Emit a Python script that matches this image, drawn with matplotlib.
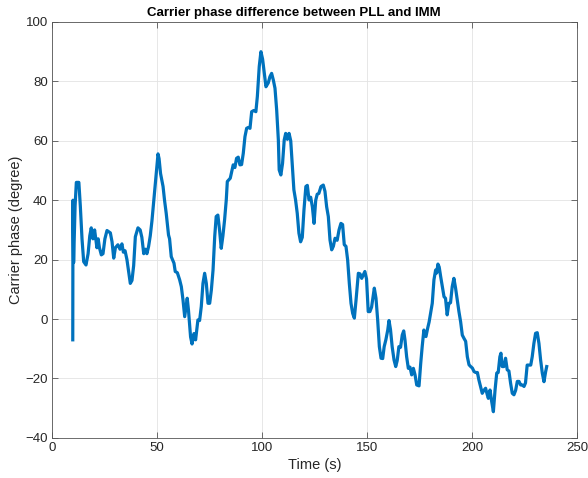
import matplotlib
matplotlib.use("Agg")
import matplotlib.pyplot as plt

# Time (s) and carrier phase difference (degree)
time_s = [
    9.9, 10.0, 10.3, 11.0, 11.6, 12.8, 13.5, 14.3, 15.1, 16.2, 17.2, 18.0, 18.7, 19.5,
    20.3, 21.0, 21.4, 22.0, 22.6, 23.5, 24.3, 25.2, 26.2, 27.8, 28.6, 29.4, 30.2, 31.4,
    32.4, 33.3, 34.0, 34.8, 35.7, 36.5, 37.3, 38.1, 38.9, 39.7, 40.95, 42.0, 42.8, 43.7,
    44.5, 45.2, 46.0, 46.8, 47.6, 48.5, 49.5, 50.5, 51.0, 51.7, 52.9, 53.6, 54.4, 55.5,
    56.0, 56.8, 58.1, 58.7, 59.7, 60.8, 61.6, 62.4, 63.2, 64.4, 65.0, 66.0, 66.7, 67.6,
    68.4, 69.5, 70.3, 71.1, 71.9, 72.7, 73.5, 74.3, 75.1, 75.9, 76.7, 77.5, 78.2, 79.0,
    79.8, 80.6, 81.4, 82.2, 83.0, 83.5, 84.9, 85.4, 86.3, 87.1, 87.9, 88.7, 89.5, 90.3,
    91.1, 91.9, 92.7, 93.5, 94.3, 95.1, 96.1, 97.1, 97.8, 98.7, 99.5, 100.3, 101.1, 101.9,
    103.0, 103.8, 104.6, 105.4, 106.2, 107.0, 107.8, 108.2, 109.0, 109.8, 110.6, 111.3,
    112.1, 112.9, 113.7, 114.4, 115.2, 116.0, 116.8, 117.6, 118.4, 119.2, 120.0, 120.9,
    121.6, 122.4, 123.2, 124.0, 124.8, 125.6, 126.3, 127.1, 128.1, 129.2, 130.0, 130.8,
    131.6, 132.4, 133.2, 134.0, 134.8, 135.8, 136.7, 137.6, 138.4, 139.2, 140.0, 140.8,
    141.6, 142.4, 143.2, 144.0, 144.8, 145.9, 146.7, 147.5, 148.2, 149.0, 149.8, 150.6,
    151.4, 152.2, 153.5, 154.3, 155.1, 155.9, 156.7, 157.5, 158.2, 159.0, 159.9, 160.5,
    161.2, 162.0, 162.9, 163.7, 164.4, 165.2, 166.0, 166.8, 167.5, 168.1, 168.9, 169.7,
    170.5, 171.3, 172.1, 172.9, 173.7, 174.8, 175.6, 176.3, 177.1, 178.1, 178.9, 179.6,
    180.3, 181.1, 181.9, 182.7, 183.2, 183.8, 184.4, 185.1, 185.9, 186.7, 187.4, 188.2,
    189.0, 189.8, 190.6, 191.4, 192.2, 193.0, 193.8, 194.6, 195.4, 196.2, 197.0, 197.8,
    198.6, 199.4, 200.2, 201.0, 201.8, 202.6, 203.3, 204.1, 204.9, 205.7, 206.5, 207.3,
    207.8, 208.6, 209.4, 210.2, 211.0, 211.8, 212.5, 213.3, 213.8, 214.4, 215.2, 216.0,
    216.8, 217.6, 218.4, 219.2, 220.0, 220.8, 221.6, 222.4, 223.2, 224.0, 224.8, 225.5,
    226.3, 227.1, 228.0, 228.7, 229.5, 230.3, 231.1, 231.9, 232.7, 233.5, 234.3, 235.1,
    235.6,
]
phase_deg = [
    -7, 40, 19, 38, 46, 46, 38, 27, 19.3, 18.2, 22, 28, 30.7, 27,
    30, 26, 24, 27, 24, 21.6, 22, 27, 29.8, 29, 26, 20.5, 24, 25,
    23.5, 25.3, 22.5, 23, 20, 16, 12, 13, 18, 27.7, 30.7, 30, 27.5, 22,
    23.5, 22, 24.4, 28, 33, 40, 48, 55.6, 54, 49, 44.6, 40, 35.6, 28.3,
    27, 21, 18.8, 16, 15.6, 13.2, 10.9, 6.4, 0.8, 7, 3, -6, -8.4, -4.9,
    -7, -0.3, -0.5, 4.2, 12, 15.4, 12, 5.3, 5.3, 9.8, 16.5, 27.8, 34.5, 35,
    30, 23.8, 28, 33.4, 40.1, 46.3, 47.4, 49, 51.9, 51, 54.1, 54.5, 51.9, 52,
    55.8, 61.4, 64.2, 64.5, 64.2, 69.8, 70.2, 69.8, 74.9, 85, 90, 87.5, 82.7, 78.2,
    79.5, 81.6, 82.7, 80.5, 77.7, 70.4, 60.3, 50.2, 48.5, 52.4, 60.3, 62.5,
    60.5, 62.5, 60, 52.4, 43.5, 40.1, 35.6, 28.9, 26, 27.5, 36.7, 44.6,
    45, 40.1, 41, 37.8, 32.2, 40, 42, 42.3, 44.6, 45.1, 43, 37.8,
    34.5, 26.6, 23.3, 24.5, 27.2, 26.5, 30, 32.2, 31.8, 25, 24.5, 19.9,
    12, 5.3, 1.9, 0.3, 6.4, 15.4, 15.2, 13.7, 14.8, 16, 13.5, 2.5,
    2.5, 4, 10.4, 7, -0.3, -9.3, -13.2, -13.3, -9.3, -7, -3.7, -0.5,
    -3.5, -9.3, -13.8, -16, -14, -9.3, -9.5, -5.4, -4, -7, -12.7, -16.6,
    -16.2, -18.8, -16.6, -18.8, -22.2, -22.5, -14.9, -9.3, -3.7, -5.9, -3.1, -1,
    1.9, 5.3, 13.2, 16.5, 15.5, 18.5, 17.5, 14.3, 10.9, 7.5, 7, 1.4,
    5.3, 5.5, 10.9, 13.7, 10.4, 6.4, 2.5, -0.9, -5.4, -6.5, -7.5, -12.7,
    -15.4, -16, -16.5, -17.7, -18, -18, -20.5, -22.7, -25, -24, -23.3, -25.5,
    -26.7, -23.9, -27.8, -31.2, -23.9, -18.2, -18, -12.7, -11.5, -16, -16, -13.2,
    -17.1, -17.5, -21.6, -25, -25.5, -24, -21, -21, -22.2, -22.2, -22.7, -21.5,
    -15.5, -15.5, -15.5, -12.7, -8.2, -4.8, -4.6, -8.2, -13.8, -18.2, -21.1, -17.7,
    -16,
]

x_ticks = [0, 50, 100, 150, 200, 250]
y_ticks = [-40, -20, 0, 20, 40, 60, 80, 100]

plt.rcParams['font.family'] = ['Liberation Sans', 'DejaVu Sans']

fig = plt.figure(figsize=(5.88, 4.78), dpi=100)
ax = fig.add_axes([0.0884, 0.084, 0.8928, 0.870])

ax.plot(time_s, phase_deg, color='#0072BD', linewidth=2.3, solid_joinstyle='round')

ax.set_xlim(0, 250)
ax.set_ylim(-40, 100)
ax.set_xticks(x_ticks)
ax.set_yticks(y_ticks)

ax.grid(True, color='#e3e3e3', linewidth=0.6)
ax.set_axisbelow(True)

edge = '#555555'
for s in ax.spines.values():
    s.set_color(edge)
    s.set_linewidth(0.6)
ax.tick_params(direction='in', top=True, right=True, length=4, width=0.6,
               color=edge, labelcolor='#262626', labelsize=9.5, pad=3)

ax.set_title('Carrier phase difference between PLL and IMM',
             fontsize=9.5, fontweight='bold', color='black', pad=4, x=0.461)
ax.set_xlabel('Time (s)', fontsize=10.5, color='#262626', labelpad=3)
ax.set_ylabel('Carrier phase (degree)', fontsize=10.5, color='#262626', labelpad=2)

fig.savefig('out.png', dpi=100, facecolor='white')
